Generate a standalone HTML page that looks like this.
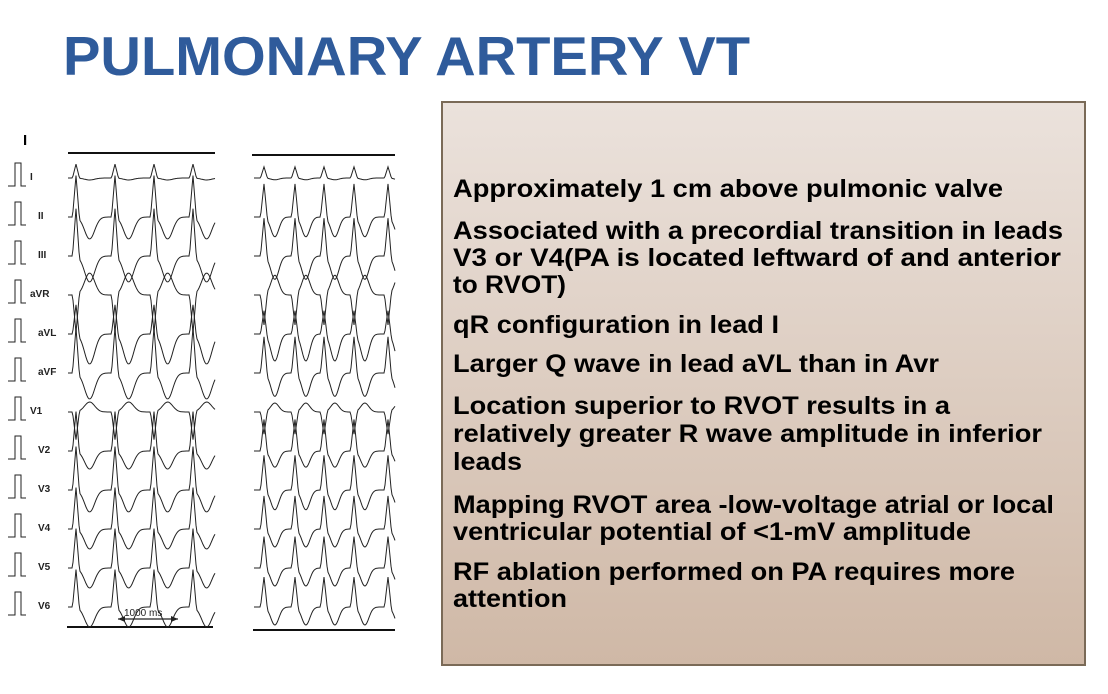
<!DOCTYPE html>
<html><head><meta charset="utf-8"><style>
html,body{margin:0;padding:0;background:#fff;width:1108px;height:694px;overflow:hidden}
svg{display:block}
</style></head><body>
<svg id="s" width="1108" height="694" viewBox="0 0 1108 694" xmlns="http://www.w3.org/2000/svg">
<defs><linearGradient id="g" x1="0" y1="0" x2="0" y2="1"><stop offset="0" stop-color="#ebe2dc"/><stop offset="1" stop-color="#cfb8a6"/></linearGradient></defs>
<text x="63" y="75" font-family="Liberation Sans, sans-serif" font-weight="bold" font-size="55" fill="#2f5b9b" textLength="687" lengthAdjust="spacingAndGlyphs">PULMONARY ARTERY VT</text>
<rect x="442" y="102" width="643" height="563" fill="url(#g)" stroke="#7a6a57" stroke-width="2"/>
<g font-family="Liberation Sans, sans-serif" font-weight="bold" font-size="25" fill="#000" lengthAdjust="spacingAndGlyphs">
<text x="453" y="197" textLength="550" lengthAdjust="spacingAndGlyphs">Approximately 1 cm above pulmonic valve</text>
<text x="453" y="239" textLength="610" lengthAdjust="spacingAndGlyphs">Associated with a precordial transition in leads</text>
<text x="453" y="266" textLength="608" lengthAdjust="spacingAndGlyphs">V3 or V4(PA is located leftward of and anterior</text>
<text x="453" y="293" textLength="113" lengthAdjust="spacingAndGlyphs">to RVOT)</text>
<text x="453" y="333" textLength="326" lengthAdjust="spacingAndGlyphs">qR configuration in lead I</text>
<text x="453" y="372" textLength="486" lengthAdjust="spacingAndGlyphs">Larger Q wave in lead aVL than in Avr</text>
<text x="453" y="414" textLength="497" lengthAdjust="spacingAndGlyphs">Location superior to RVOT results in a</text>
<text x="453" y="442" textLength="589" lengthAdjust="spacingAndGlyphs">relatively greater R wave amplitude in inferior</text>
<text x="453" y="470" textLength="69" lengthAdjust="spacingAndGlyphs">leads</text>
<text x="453" y="513" textLength="601" lengthAdjust="spacingAndGlyphs">Mapping RVOT area -low-voltage atrial or local</text>
<text x="453" y="540" textLength="518" lengthAdjust="spacingAndGlyphs">ventricular potential of &lt;1-mV amplitude</text>
<text x="453" y="580" textLength="562" lengthAdjust="spacingAndGlyphs">RF ablation performed on PA requires more</text>
<text x="453" y="607" textLength="114" lengthAdjust="spacingAndGlyphs">attention</text>
</g>
<text x="23" y="145" font-family="Liberation Sans, sans-serif" font-weight="bold" font-size="15">I</text>
<g stroke="#111" stroke-width="2"><line x1="68" y1="153" x2="215" y2="153"/><line x1="67" y1="627" x2="213" y2="627"/><line x1="252" y1="155" x2="395" y2="155"/><line x1="253" y1="630" x2="395" y2="630"/></g>
<g id="ecg" fill="none" stroke="#222" stroke-width="1"></g>
<g font-family="Liberation Sans, sans-serif" font-weight="bold" font-size="10" fill="#222" id="lab"></g>
<line x1="118" y1="619" x2="178" y2="619" stroke="#222" stroke-width="1.2"/>
<path d="M118 619l7-3v6zM178 619l-7-3v6z" fill="#222"/>
<text x="124" y="616" font-family="Liberation Sans, sans-serif" font-size="10" fill="#222">1000 ms</text>
</svg>
<script>
var ns="http://www.w3.org/2000/svg",E=document.getElementById("ecg"),L=document.getElementById("lab");
function add(tag,a,p){var e=document.createElementNS(ns,tag);for(var k in a)e.setAttribute(k,a[k]);p.appendChild(e);return e;}
var leads=[["I",4,-14,2],["II",0,-42,22],["III",0,-48,26],["aVR",4,38,-22],["aVL",0,-30,30],["aVF",0,-46,26],["V1",4,28,-10],["V2",0,-40,18],["V3",0,-44,22],["V4",0,-42,20],["V5",0,-40,20],["V6",0,-38,20]];
var lb=[76,115,154,193],rb=[264,295,324,354,388];
function wave(x0,x1,beats,y,A,T,P){var d="M";for(var x=x0;x<=x1;x++){var v=0;for(var i=0;i<beats.length;i++){var dd=x-beats[i];v+=A*Math.max(0,1-Math.abs(dd)/3.5);var t=dd-0.35*P;v+=T*Math.exp(-t*t/(2*Math.pow(0.13*P,2)));}d+=x+" "+(y+v).toFixed(1)+" ";}return d;}
for(var i=0;i<leads.length;i++){var y=178+i*39,l=leads[i];
add("path",{d:wave(68,215,lb,y,l[2],l[3],39)},E);
add("path",{d:wave(254,395,rb,y,l[2]*0.8,l[3]*0.9,31)},E);
add("path",{d:"M8 "+(y+8)+"H15V"+(y-15)+"H21V"+(y+8)+"H26"},E);
var t=add("text",{x:l[1]?30:38,y:y+2},L);t.textContent=l[0];}
</script>
</body></html>
